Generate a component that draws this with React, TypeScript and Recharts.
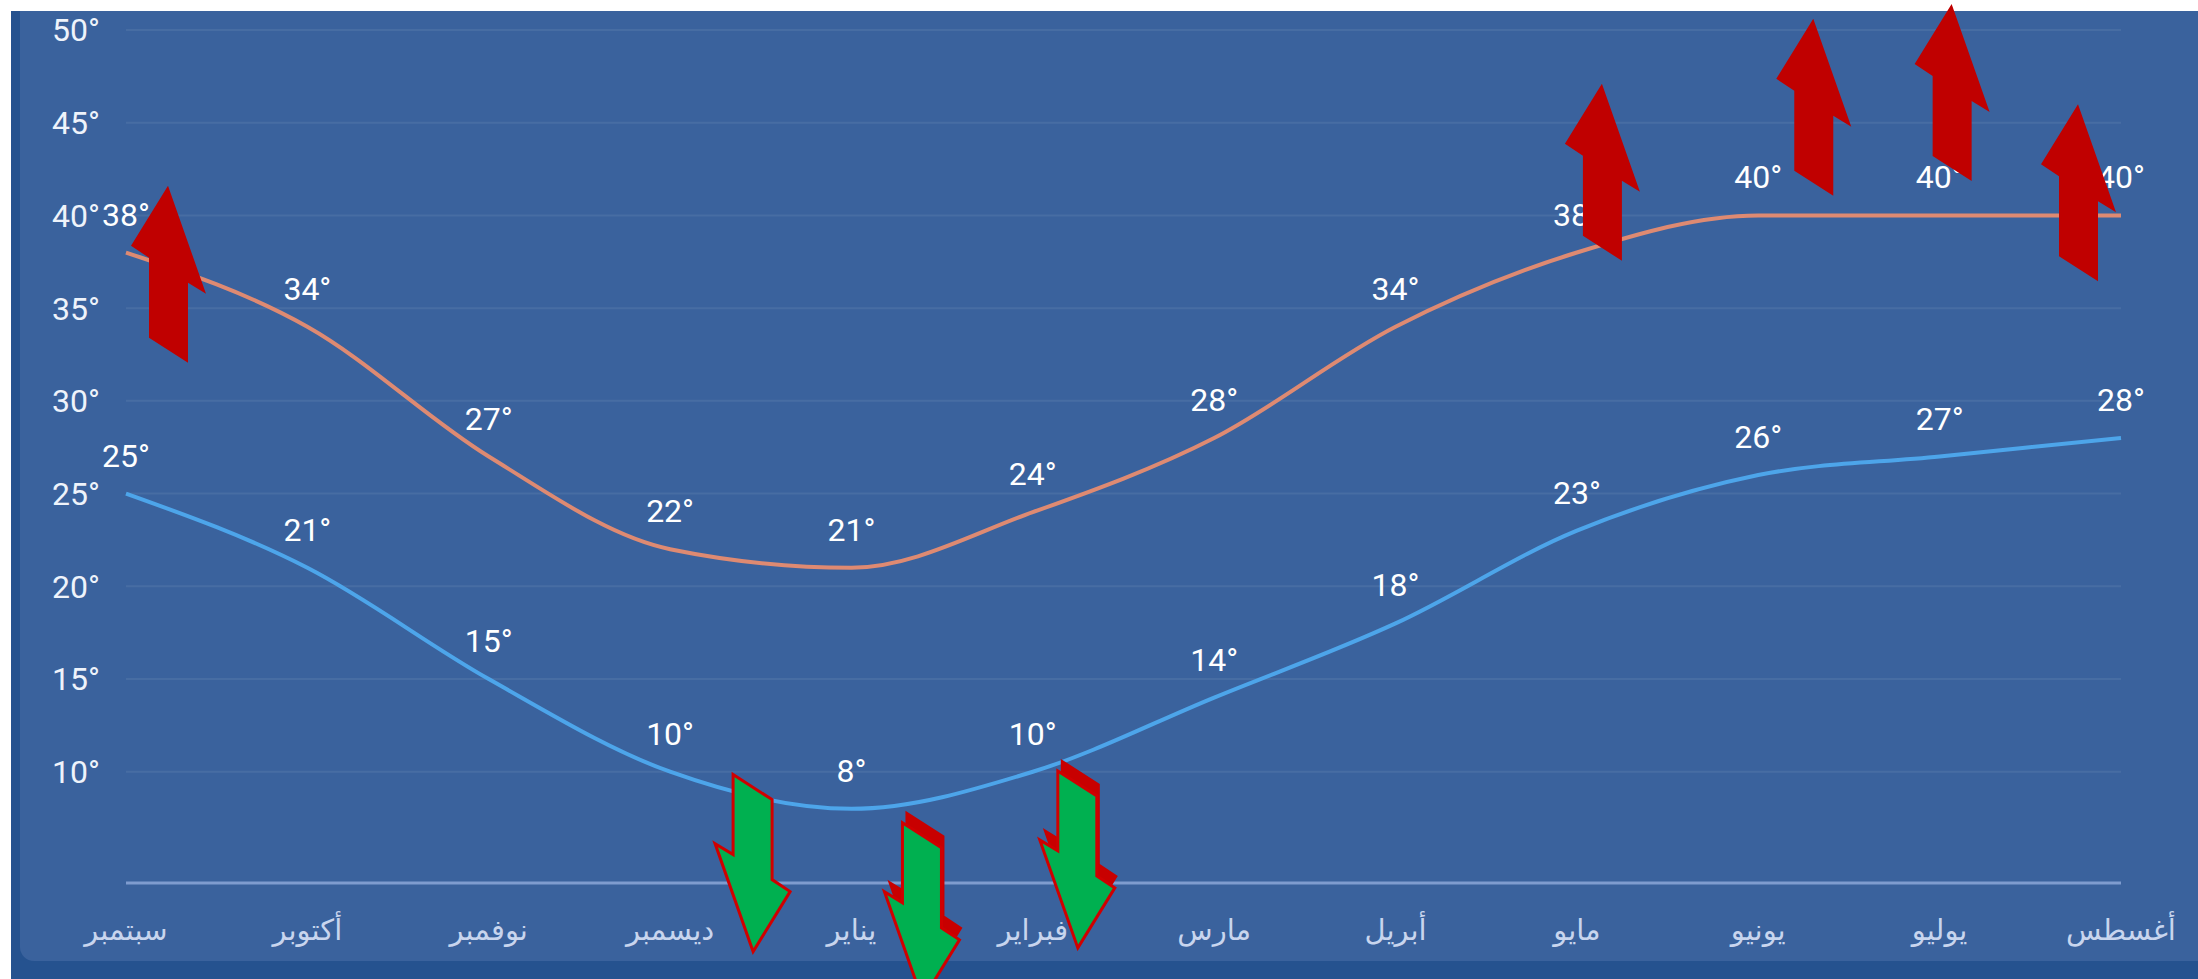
import React from 'react';
import { LineChart, Line, XAxis, YAxis, CartesianGrid, LabelList, ReferenceDot } from 'recharts';

const months = ['سبتمبر', 'أكتوبر', 'نوفمبر', 'ديسمبر', 'يناير', 'فبراير', 'مارس', 'أبريل', 'مايو', 'يونيو', 'يوليو', 'أغسطس'];
const highTemps = [38, 34, 27, 22, 21, 24, 28, 34, 38, 40, 40, 40];
const lowTemps = [25, 21, 15, 10, 8, 10, 14, 18, 23, 26, 27, 28];
const yTicks = [10, 15, 20, 25, 30, 35, 40, 45, 50];

// hand drawn arrows over the screenshot: month it sits near, level of the tip (°)
const upArrowMonths = ['سبتمبر', 'مايو', 'يونيو', 'يوليو', 'أغسطس'];
const upArrowTips = [41.6, 47.1, 50.6, 51.4, 46.0];
const downArrowMonths = ['ديسمبر', 'يناير', 'فبراير'];
const downArrowTips = [0.3, -2.3, 0.5];

// pixel nudges of the arrows off their month
const upNudge = [42, 25, 55, 12, -43];
const downNudge = [83, 71, 45];
const downShadow = [false, true, true];

const data = months.map((m, i) => ({ month: m, high: highTemps[i], low: lowTemps[i] }));

const W = 2198;
const H = 979;

const UP = [[0, 0], [-37, 60], [-19, 72], [-19, 152], [20, 177], [20, 97], [38, 108]];
const pts = (cx: number, cy: number, sgn: number) =>
  UP.map(([x, y]) => `${cx + sgn * x},${cy + sgn * y}`).join(' ');

const upShape = (dx: number) => (p: any) => (
  <polygon points={pts(p.cx + dx, p.cy, 1)} fill="#c00000" />
);

const downShape = (dx: number, shadow: boolean) => (p: any) => (
  <g>
    {shadow && <polygon points={pts(p.cx + dx + 3, p.cy - 12, -1)} fill="#c80000" />}
    <polygon points={pts(p.cx + dx, p.cy, -1)} fill="#00b050" stroke="#d00000" strokeWidth={3} strokeLinejoin="miter" />
  </g>
);

const deg = (v: any) => `${v}°`;

export default function App() {
  return (
    <div style={{ position: 'absolute', left: 0, top: 0, width: W, height: H, background: '#ffffff', overflow: 'hidden' }}>
      <div style={{ position: 'absolute', left: 11, top: 11, right: 0, bottom: 0, background: '#25528f' }} />
      <div style={{ position: 'absolute', left: 20, top: 11, right: 0, height: 950, background: '#3a629d', borderBottomLeftRadius: 14 }} />
      <div style={{ position: 'absolute', left: 0, top: 0 }}>
        <LineChart width={W} height={H} data={data} margin={{ top: 30, right: 77, left: 26, bottom: 36 }}>
          <CartesianGrid vertical={false} stroke="rgba(255,255,255,0.07)" strokeWidth={2} />
          <XAxis
            dataKey="month"
            height={60}
            interval={0}
            tickLine={false}
            tickMargin={30}
            axisLine={{ stroke: '#7f9ccf', strokeWidth: 3 }}
            tick={{ fill: '#c8d5ee', fontSize: 29, fontFamily: 'DejaVu Sans' }}
          />
          <YAxis
            width={100}
            domain={[4, 50]}
            ticks={yTicks}
            interval={0}
            axisLine={false}
            tickLine={false}
            tickMargin={20}
            tickFormatter={deg}
            tick={{ fill: '#eef3fb', fontSize: 32, fontFamily: 'Roboto' }}
          />
          <Line type="monotone" dataKey="high" stroke="#de8a72" strokeWidth={4} dot={false} isAnimationActive={false}>
            <LabelList dataKey="high" position="top" offset={27} formatter={deg} fill="#ffffff" fontSize={32} fontFamily="Roboto" />
          </Line>
          <Line type="monotone" dataKey="low" stroke="#4da5ea" strokeWidth={4} dot={false} isAnimationActive={false}>
            <LabelList dataKey="low" position="top" offset={27} formatter={deg} fill="#ffffff" fontSize={32} fontFamily="Roboto" />
          </Line>
        </LineChart>
      </div>
      {/* arrows sit on top of everything, same scales as the chart below */}
      <div style={{ position: 'absolute', left: 0, top: 0, pointerEvents: 'none' }}>
        <LineChart width={W} height={H} data={data} margin={{ top: 30, right: 77, left: 26, bottom: 36 }}>
          <XAxis dataKey="month" height={60} tick={false} axisLine={false} tickLine={false} />
          <YAxis width={100} domain={[4, 50]} tick={false} axisLine={false} tickLine={false} />
          <Line dataKey="high" stroke="none" dot={false} activeDot={false} isAnimationActive={false} />
          {upArrowMonths.map((m, i) => (
            <ReferenceDot key={'u' + i} x={m} y={upArrowTips[i]} ifOverflow="visible" shape={upShape(upNudge[i])} />
          ))}
          {downArrowMonths.map((m, i) => (
            <ReferenceDot key={'d' + i} x={m} y={downArrowTips[i]} ifOverflow="visible" shape={downShape(downNudge[i], downShadow[i])} />
          ))}
        </LineChart>
      </div>
    </div>
  );
}
